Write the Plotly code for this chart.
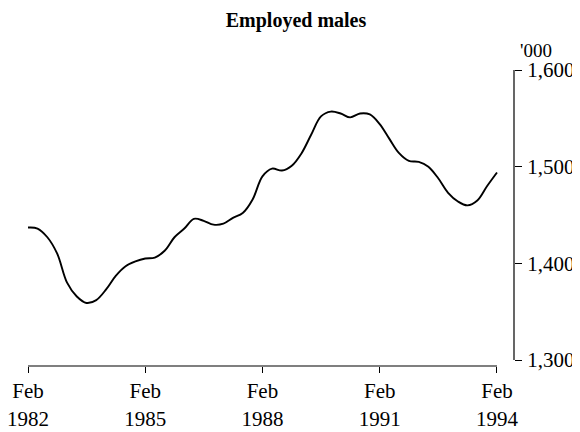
import pandas as pd
import plotly.graph_objects as go

# Quarterly observations, Feb 1982 .. Feb 1994 ('000)
dates = pd.date_range("1982-02-01", periods=49, freq="3MS")
employed_males = [
    1437, 1436, 1427, 1410, 1380, 1366, 1359, 1362, 1373, 1387,
    1397, 1402, 1405, 1406, 1413, 1427, 1436, 1446, 1444, 1440,
    1441, 1447, 1452, 1466, 1490, 1498, 1496, 1501, 1514, 1533,
    1552, 1557, 1555, 1551, 1555, 1554, 1544, 1529, 1514, 1506,
    1505, 1500, 1488, 1473, 1464, 1460, 1465, 1480, 1494,
]

x_tick_vals = ["1982-02-01", "1985-02-01", "1988-02-01", "1991-02-01", "1994-02-01"]
x_tick_text = ["Feb<br>1982", "Feb<br>1985", "Feb<br>1988", "Feb<br>1991", "Feb<br>1994"]
y_tick_vals = [1300, 1400, 1500, 1600]
y_tick_text = ["1,300", "1,400", "1,500", "1,600"]

FONT = "Liberation Serif"

fig = go.Figure()
fig.add_trace(go.Scatter(
    x=dates, y=employed_males, mode="lines",
    line=dict(color="black", width=1.9, shape="spline", smoothing=1.0),
    showlegend=False, hoverinfo="skip",
))

# axis lines drawn as shapes (they only span part of the plot area)
fig.add_shape(type="line", xref="x", yref="paper",
              x0=x_tick_vals[0], x1=x_tick_vals[-1], y0=0, y1=0,
              line=dict(color="black", width=1.2))
fig.add_shape(type="line", xref="paper", yref="y",
              x0=1, x1=1, y0=y_tick_vals[0], y1=y_tick_vals[-1],
              line=dict(color="black", width=1.2))

fig.add_annotation(text="'000", xref="paper", yref="paper",
                   x=1.045, y=1.065, showarrow=False,
                   xanchor="center", yanchor="middle",
                   font=dict(family=FONT, size=19, color="black"))

# the page body has an 8px margin, so the figure is 8px smaller than the window
fig.update_layout(
    width=572, height=424,
    margin=dict(l=20, r=66, t=62, b=66, autoexpand=False),
    paper_bgcolor="white", plot_bgcolor="white",
    title=dict(text="<b>Employed males</b>", x=0.5035, xanchor="center",
               y=1, yanchor="top", yref="container", pad=dict(t=5),
               font=dict(family=FONT, size=20, color="black")),
    xaxis=dict(
        type="date", range=["1982-02-01", "1994-07-10"],
        tickmode="array", tickvals=x_tick_vals, ticktext=x_tick_text,
        ticks="outside", ticklen=6, tickwidth=1.2, tickcolor="black",
        showline=False, showgrid=False, zeroline=False, automargin=False,
        ticklabeloverflow="allow",
        tickfont=dict(family=FONT, size=21, color="black"),
    ),
    yaxis=dict(
        side="right", range=[1293.8, 1600],
        tickmode="array", tickvals=y_tick_vals, ticktext=y_tick_text,
        ticks="outside", ticklen=7, tickwidth=1.2, tickcolor="black",
        showline=False, showgrid=False, zeroline=False, automargin=False,
        ticklabeloverflow="allow",
        tickfont=dict(family=FONT, size=21, color="black"),
        ticklabelstandoff=1,
    ),
)

fig.write_html("out.html")
